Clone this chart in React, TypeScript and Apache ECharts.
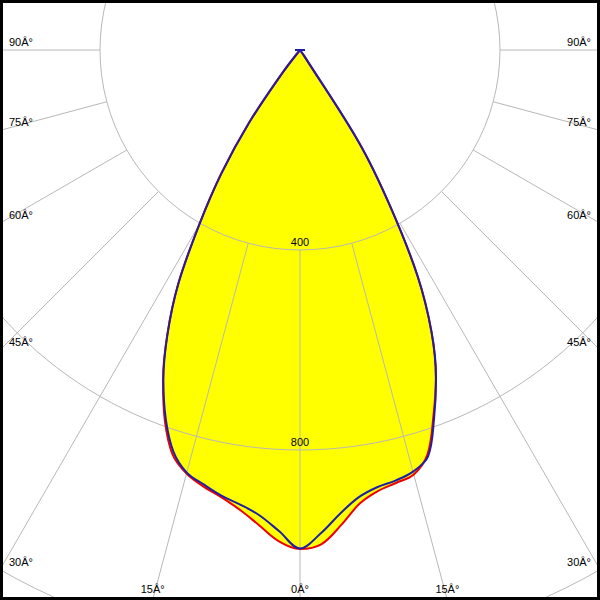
import React, { useEffect, useRef } from "react";
import * as echarts from "echarts";

// Polar angles (degrees from nadir) at which intensities were read
const ANGLES = [0, 2.5, 5, 7.5, 10, 12.5, 15, 17.5, 20, 22.5, 25, 27.5, 30, 32.5, 35, 37.5, 40, 45, 50, 55, 60, 65, 70, 75, 80, 85, 90];
// C0-C180 plane (red), cd
const RED_LEFT = [998, 983, 953, 927, 908, 894, 877, 848, 790, 716, 628, 528, 403, 293, 179, 57, 0, 0, 0, 0, 0, 0, 0, 0, 0, 0, 10];
const RED_RIGHT = [998, 989, 953, 915, 896, 887, 879, 848, 780, 710, 622, 508, 360, 220, 15, 0, 0, 0, 0, 0, 0, 0, 0, 0, 0, 0, 10];
// C90-C270 plane (blue), cd
const BLUE_LEFT = [997, 963, 934, 917, 905, 890, 875, 842, 785, 714, 627, 527, 402, 292, 178, 58, 0, 0, 0, 0, 0, 0, 0, 0, 0, 0, 10];
const BLUE_RIGHT = [997, 967, 930, 902, 888, 882, 873, 852, 784, 711, 623, 509, 361, 221, 15, 0, 0, 0, 0, 0, 0, 0, 0, 0, 0, 0, 10];

const RING_LABELS = [400, 800];
const DEG_LABELS = [0, 15, 30, 45, 60, 75, 90];
const RADIUS_MAX = 1200;
const RING_STEP = 400;

const W = 600;
const H = 600;
const CX = 300;
const CY = 50;
const R_PX = 600; // pixel radius of RADIUS_MAX
const SMOOTH = 0.35;

function curve(left: number[], right: number[]) {
  const l = ANGLES.map((a, i) => [left[i], a]).reverse();
  const r = ANGLES.slice(1).map((a, i) => [right[i + 1], 360 - a]);
  return [...l, ...r];
}

const DEG = "\u00C2\u00B0";

function degLabels() {
  const out: any[] = [];
  const font = "11px 'Liberation Sans', Arial, sans-serif";
  DEG_LABELS.forEach((d) => {
    const sides = d === 0 ? [0] : [-1, 1];
    sides.forEach((s) => {
      const rad = (d * Math.PI) / 180;
      const dx = Math.sin(rad) * s;
      const dy = Math.cos(rad);
      const tx = Math.abs(dx) > 1e-9 ? (s < 0 ? CX : W - CX) / Math.abs(dx) : Infinity;
      const ty = dy > 1e-9 ? (H - CY) / dy : Infinity;
      if (tx < ty) {
        out.push({
          type: "text",
          x: s < 0 ? 9 : W - 9,
          y: CY + dy * tx - 8,
          z: 20,
          style: { text: d + DEG, fill: "#000", font, align: s < 0 ? "left" : "right", verticalAlign: "middle" },
        });
      } else {
        out.push({
          type: "text",
          x: CX + dx * ty,
          y: H - 11,
          z: 20,
          style: { text: d + DEG, fill: "#000", font, align: "center", verticalAlign: "middle" },
        });
      }
    });
  });
  RING_LABELS.forEach((v) => {
    out.push({
      type: "text",
      x: CX,
      y: CY + (v / RADIUS_MAX) * R_PX - 8,
      z: 20,
      style: { text: String(v), fill: "#000", font, align: "center", verticalAlign: "middle" },
    });
  });
  return out;
}

export default function App() {
  const ref = useRef<HTMLDivElement>(null);
  useEffect(() => {
    if (!ref.current) return;
    const chart = echarts.init(ref.current, undefined, { renderer: "svg" });
    const red = curve(RED_LEFT, RED_RIGHT);
    const blue = curve(BLUE_LEFT, BLUE_RIGHT);
    const gridColor = "#b8b8b8";
    const off = { axisLine: { show: false }, axisTick: { show: false }, axisLabel: { show: false } };
    chart.setOption({
      animation: false,
      backgroundColor: "#fff",
      polar: [
        { center: [CX, CY], radius: R_PX },
        { center: [CX, CY], radius: [R_PX / 3, R_PX] },
      ],
      angleAxis: [
        { polarIndex: 0, type: "value", min: 0, max: 360, startAngle: 270, clockwise: true, ...off, splitLine: { show: false } },
        {
          polarIndex: 1, type: "value", min: 0, max: 360, interval: 15, startAngle: 270, clockwise: true, ...off, z: 3,
          splitLine: { show: true, lineStyle: { color: gridColor, width: 1 } },
        },
      ],
      radiusAxis: [
        {
          polarIndex: 0, type: "value", min: 0, max: RADIUS_MAX, interval: RING_STEP, ...off, z: 3,
          splitLine: { show: true, lineStyle: { color: gridColor, width: 1 } },
        },
        { polarIndex: 1, type: "value", min: 0, max: 1, ...off, splitLine: { show: false } },
      ],
      series: [
        { type: "line", coordinateSystem: "polar", polarIndex: 0, data: red, symbol: "none", silent: true, z: 1, smooth: SMOOTH,
          lineStyle: { width: 0, opacity: 0 }, areaStyle: { color: "#ffff00", opacity: 1 } },
        { type: "line", coordinateSystem: "polar", polarIndex: 0, data: blue, symbol: "none", silent: true, z: 1, smooth: SMOOTH,
          lineStyle: { width: 0, opacity: 0 }, areaStyle: { color: "#ffff00", opacity: 1 } },
        { type: "line", coordinateSystem: "polar", polarIndex: 0, data: red, symbol: "none", z: 5, smooth: SMOOTH,
          lineStyle: { color: "#ee0000", width: 2 } },
        { type: "line", coordinateSystem: "polar", polarIndex: 0, data: blue, symbol: "none", z: 6, smooth: SMOOTH,
          lineStyle: { color: "#1f1fa6", width: 2 } },
      ],
      graphic: [
        { type: "rect", z: 30, shape: { x: 1.5, y: 1.5, width: W - 3, height: H - 3 }, style: { fill: "none", stroke: "#000", lineWidth: 3 } },
        ...degLabels(),
      ],
    });
    return () => chart.dispose();
  }, []);
  return <div ref={ref} style={{ position: "absolute", left: 0, top: 0, width: W, height: H }} />;
}
